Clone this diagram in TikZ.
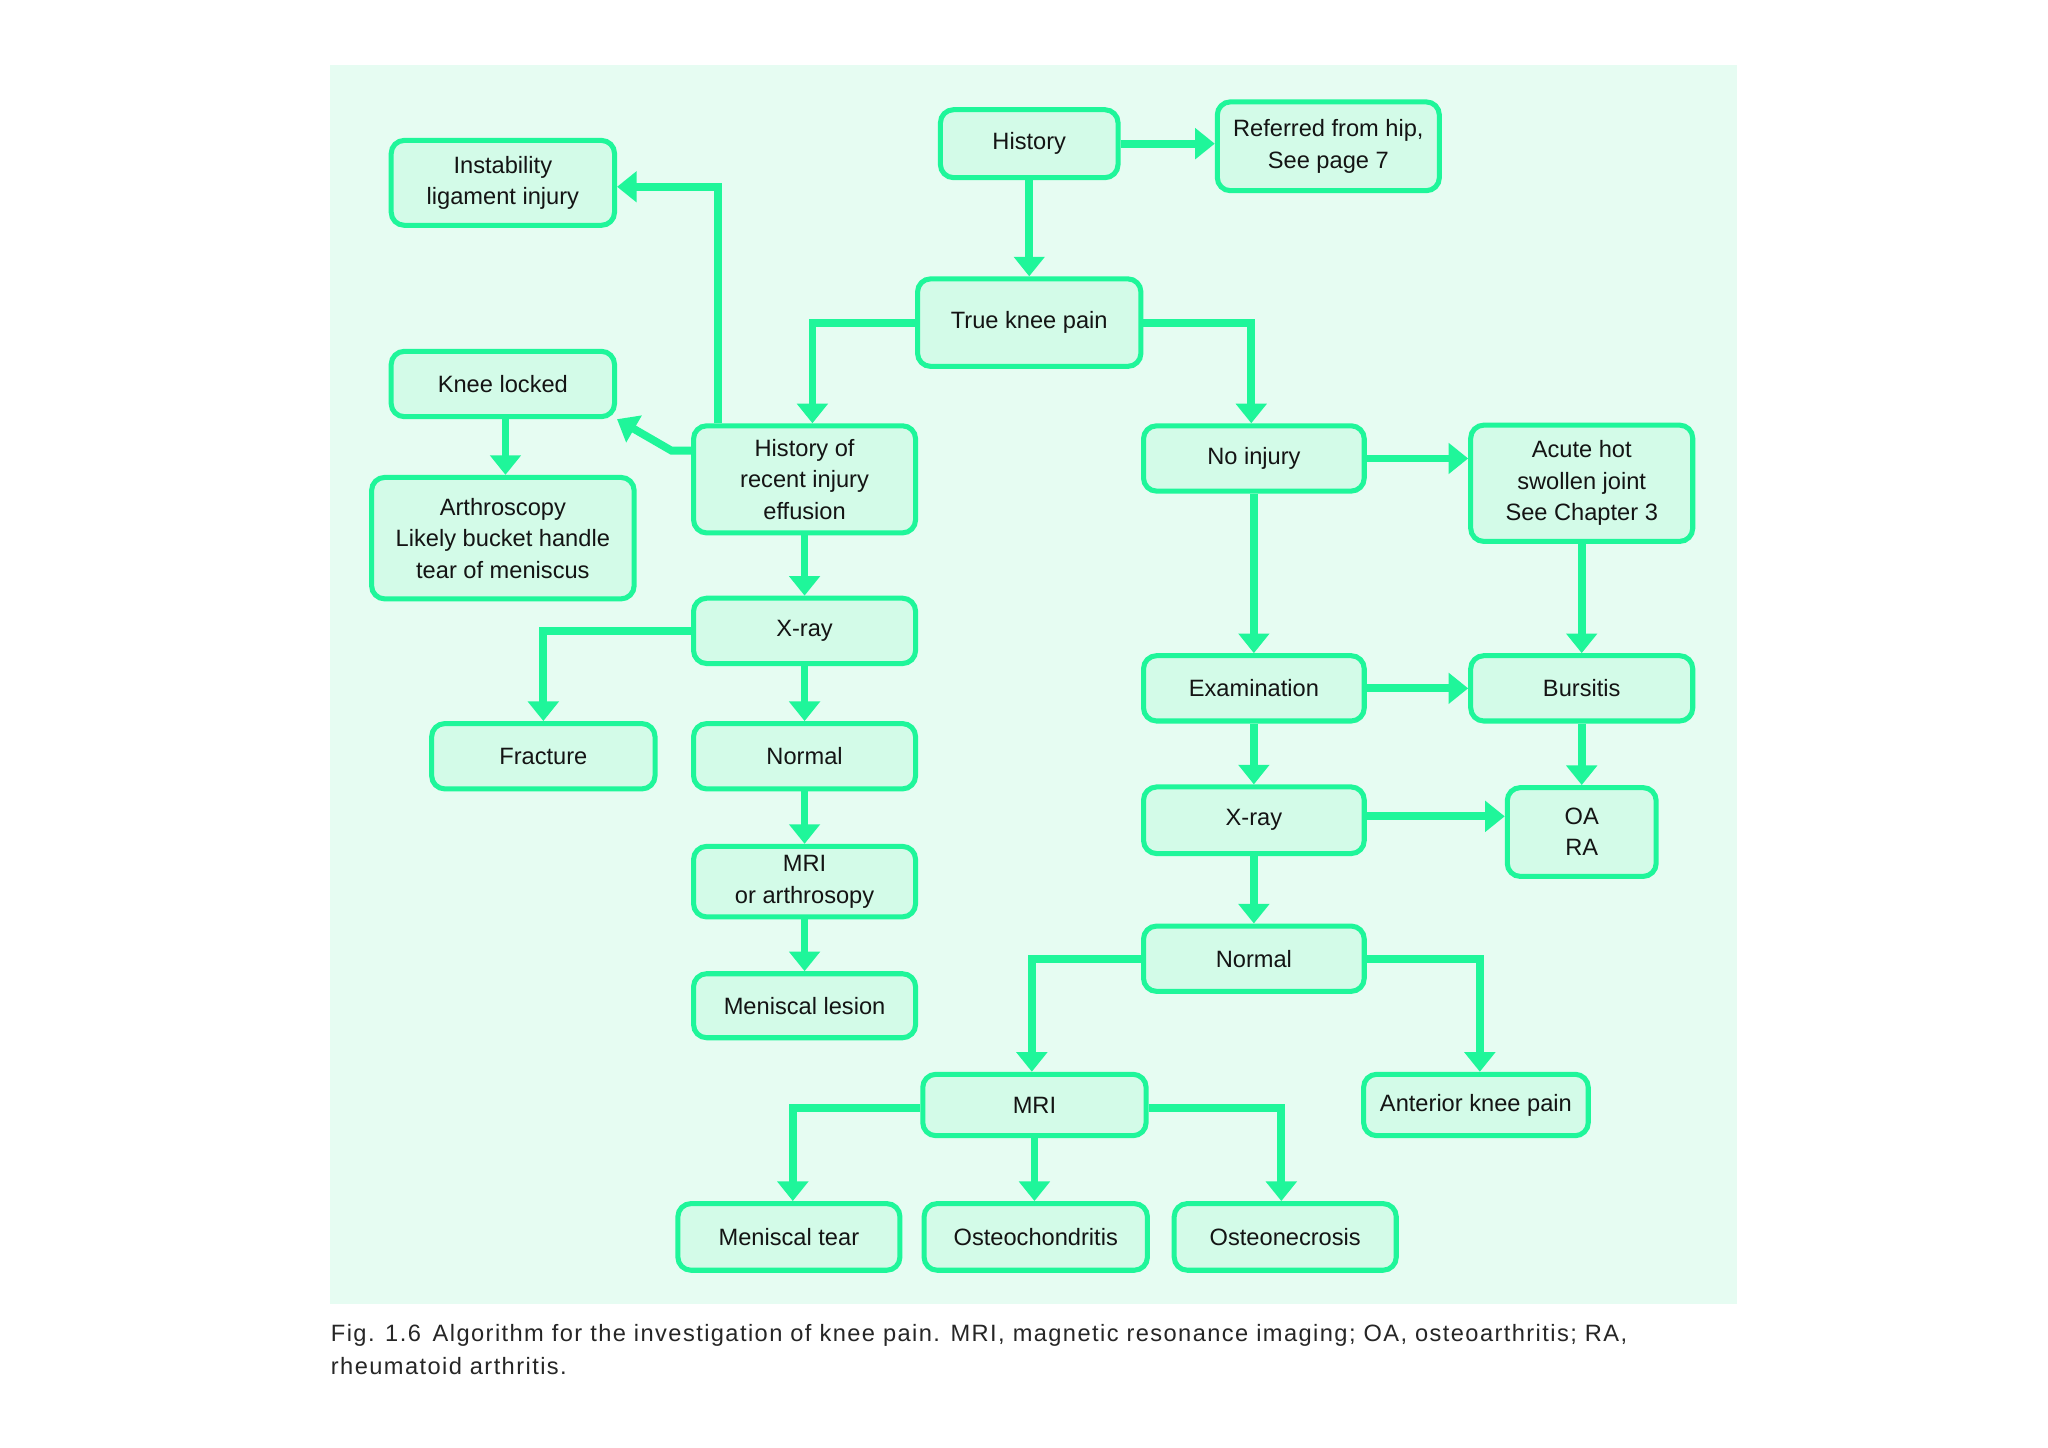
\documentclass[tikz,border=0pt]{standalone}
\usepackage{fontspec}
\setmainfont{Liberation Sans}
\newfontfamily\capfont{Liberation Sans}[LetterSpace=6]
\usetikzlibrary{arrows.meta,calc}
\definecolor{bgmint}{HTML}{E6FCF2}
\definecolor{boxfill}{HTML}{D3FBE8}
\definecolor{edgegreen}{HTML}{1FF69A}
\tikzset{
  bx/.style={draw=edgegreen, line width=2.2pt, fill=boxfill, rounded corners=2mm,
    align=center, inner sep=0pt, font=\fontsize{10.3}{13.7}\selectfont, text=black!92},
  sz/.style 2 args={minimum width=#1*0.2mm, minimum height=#2*0.2mm},
  arr/.style={draw=edgegreen, line width=3.4pt, -{Triangle[length=3mm,width=4.6mm]}},
  captxt/.style={anchor=base west, inner sep=0pt, font=\capfont\fontsize{10.3}{13.7}\selectfont, text=black!85}
}
\begin{document}
\begin{tikzpicture}[x=0.2mm,y=-0.2mm]
\useasboundingbox (0,0) rectangle (1568,1108);
\fill[white] (0,0) rectangle (1568,1108);
\fill[bgmint] (253,50) rectangle (1330,998);

% nodes
\node[bx,sz={136}{52}] (hist) at (788,110) {History};
\node[bx,sz={170}{68}] (ref) at (1017,112) {Referred from hip,\\See page 7};
\node[bx,sz={171}{65}] (inst) at (385,140) {Instability\\ligament injury};
\node[bx,sz={171}{67}] (true) at (788,247) {True knee pain};
\node[bx,sz={171}{50}] (lock) at (385,294) {Knee locked};
\node[bx,sz={170}{82}] (hor) at (616,367) {History of\\recent injury\\effusion};
\node[bx,sz={169}{50}] (noinj) at (960,351) {No injury};
\node[bx,sz={170}{89}] (acute) at (1211,370) {Acute hot\\swollen joint\\See Chapter 3};
\node[bx,sz={201}{93}] (arth) at (385,412) {Arthroscopy\\Likely bucket handle\\tear of meniscus};
\node[bx,sz={170}{50}] (xl) at (616,483) {X-ray};
\node[bx,sz={171}{50}] (frac) at (416,579) {Fracture};
\node[bx,sz={170}{50}] (norml) at (616,579) {Normal};
\node[bx,sz={169}{50}] (exam) at (960,527) {Examination};
\node[bx,sz={170}{50}] (burs) at (1211,527) {Bursitis};
\node[bx,sz={169}{51}] (xr) at (960,628) {X-ray};
\node[bx,sz={114}{68}] (oara) at (1211,637) {OA\\RA};
\node[bx,sz={170}{54}] (mril) at (616,675) {MRI\\or arthrosopy};
\node[bx,sz={169}{50}] (normr) at (960,734) {Normal};
\node[bx,sz={170}{49}] (menl) at (616,770) {Meniscal lesion};
\node[bx,sz={171}{47}] (mri) at (792,846) {MRI};
\node[bx,sz={172}{47}] (ant) at (1130,846) {Anterior knee pain};
\node[bx,sz={170}{51}] (ment) at (604,947) {Meniscal tear};
\node[bx,sz={171}{51}] (osteoch) at (793,947) {Osteochondritis};
\node[bx,sz={170}{51}] (osteon) at (984,947) {Osteonecrosis};

% connector helpers
\coordinate (xre) at ($(xr.east)+(0,-3)$);
\coordinate (instin) at ($(inst.east)+(0,3)$);

% connectors
\draw[arr] (hist.east) -- (hist.east -| ref.west);
\draw[arr] (hist.south) -- (true.north);
\draw[arr] (true.west) -| ($(hor.north)+(6,0)$);
\draw[arr] (true.east) -| ($(noinj.north)+(-2,0)$);
\draw[arr] ($(hor.north)+(-66,0)$) |- (instin);
\draw[arr] ($(hor.west)+(0,-22)$) -- ++(-15,0) -- (lock.south east);
\draw[arr] ($(lock.south)+(2,0)$) -- ($(arth.north)+(2,0)$);
\draw[arr] (hor.south) -- (xl.north);
\draw[arr] (xl.west) -| (frac.north);
\draw[arr] (xl.south) -- (norml.north);
\draw[arr] (norml.south) -- (mril.north);
\draw[arr] (mril.south) -- (menl.north);
\draw[arr] (noinj.east) -- (noinj.east -| acute.west);
\draw[arr] (noinj.south) -- (exam.north);
\draw[arr] (acute.south) -- (burs.north);
\draw[arr] (exam.east) -- (burs.west);
\draw[arr] (exam.south) -- (xr.north);
\draw[arr] (burs.south) -- (oara.north);
\draw[arr] (xre) -- (xre -| oara.west);
\draw[arr] (xr.south) -- (normr.north);
\draw[arr] (normr.west) -| ($(mri.north)+(-2,0)$);
\draw[arr] (normr.east) -| ($(ant.north)+(3,0)$);
\draw[arr] ($(mri.west)+(0,2)$) -| ($(ment.north)+(3,0)$);
\draw[arr] (mri.south) -- (mri.south |- osteoch.north);
\draw[arr] ($(mri.east)+(0,2)$) -| ($(osteon.north)+(-3,0)$);

% caption
\node[captxt] (cap1) at (253,1027) {Fig. 1.6\enspace Algorithm for the investigation of knee pain. MRI, magnetic resonance imaging; OA, osteoarthritis; RA,};
\node[captxt] (cap2) at (253,1052) {rheumatoid arthritis.};
\end{tikzpicture}
\end{document}
